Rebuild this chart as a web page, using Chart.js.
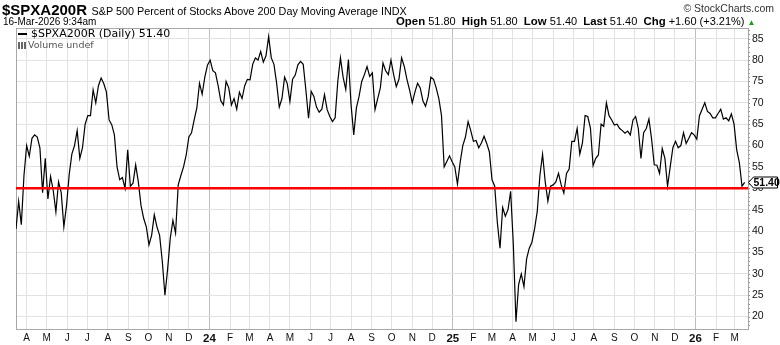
<!DOCTYPE html>
<html>
<head>
<meta charset="utf-8">
<script src="https://cdn.jsdelivr.net/npm/chart.js@4.4.1/dist/chart.umd.min.js"></script>
<style>
  html, body { margin: 0; padding: 0; background: #fff; }
  #wrap { position: relative; width: 780px; height: 345px; font-family: "Liberation Sans", Arial, sans-serif; color: #000; }
  #spx-chart { position: absolute; left: 0; top: 0; }
  .hdr { position: absolute; white-space: nowrap; line-height: 1; }
  .sym { font-weight: bold; font-size: 15px; }
  .desc { font-size: 10.8px; }
  .stamp { font-size: 10px; }
  .copy { font-size: 10.5px; color: #333; }
  .quote { font-size: 11px; }
  .quote b { font-size: 11.4px; }
  .up { color: #1a9a1a; font-size: 8px; }
  .legend { font-family: "DejaVu Sans", Verdana, sans-serif; font-size: 11px; }
  .dash { display: inline-block; width: 9px; height: 2px; background: #000; vertical-align: middle; margin-right: 4px; }
  .vol { font-family: "DejaVu Sans", Verdana, sans-serif; font-size: 9.5px; color: #555; }
  .bars { display: inline-block; width: 9px; height: 7px; margin-right: 1px; vertical-align: -1px;
          background: linear-gradient(to right, #666 0 2px, transparent 2px 3px, #666 3px 5px, transparent 5px 6px, #666 6px 8px, transparent 8px); }
</style>
</head>
<body>
<div id="wrap">
  <canvas id="spx-chart" width="780" height="345"></canvas>
  <div class="hdr" style="left:2px; top:2px;"><span class="sym">$SPXA200R</span> <span class="desc">S&amp;P 500 Percent of Stocks Above 200 Day Moving Average INDX</span></div>
  <div class="hdr stamp" style="left:3px; top:17px;">16-Mar-2026 9:34am</div>
  <div class="hdr copy" style="right:6px; top:3px;">© StockCharts.com</div>
  <div class="hdr quote" style="left:396px; top:16px;"><b>Open</b> 51.80&nbsp; <b>High</b> 51.80&nbsp; <b>Low</b> 51.40&nbsp; <b>Last</b> 51.40&nbsp; <b>Chg</b> +1.60 (+3.21%) <span class="up">▲</span></div>
  <div class="hdr legend" style="left:18px; top:28px;"><span class="dash"></span>$SPXA200R (Daily) 51.40</div>
  <div class="hdr vol" style="left:18px; top:40px;"><span class="bars"></span>Volume undef</div>
</div>
<script>
// daily readings sampled every 4 calendar days, starting 16-Mar-2023
const startDate = Date.UTC(2023, 2, 16);
const stepDays = 4;
const spxa200r = [
  40.5, 47, 41.5, 53, 60, 57.5, 61.7, 62.5, 62, 59.4, 49, 57, 47.5, 52.8, 49.5, 44.5,
  51.5, 49, 41, 46, 53.2, 58, 60, 63.5, 57, 59.5, 65, 67, 67, 73, 70, 74,
  75.8, 74.5, 72.5, 66, 64.9, 62.5, 55, 52, 52.5, 50, 59, 50.5, 51.2, 55.5, 51.5, 46,
  43, 41, 36.8, 39, 43.8, 41, 39, 33, 25, 31, 38.3, 42.5, 39.5, 50.8, 53, 55, 57.8, 62, 63, 66,
  68.8, 74.6, 72, 76, 78.8, 80, 77.5, 77, 74, 70.5, 69.5, 75, 73.5, 69.5, 71, 68.5, 72.5, 71,
  74, 75.5, 75.4, 79, 80.5, 80, 82, 79.5, 81, 85.5, 80.5, 79, 74.6, 69, 71, 76, 74.5, 70.3,
  75.5, 76.5, 78.9, 79.7, 79, 73, 66.4, 72.7, 71.5, 69, 67.8, 68.5, 71.9, 68.4, 66.8, 65.6, 66.5,
  75, 80.5, 76, 73.1, 80.1, 69.5, 62.5, 68.8, 71.5, 75, 76.6, 78.5, 76.2, 77, 68.4, 71, 73.5, 79.3,
  77.5, 76.6, 80, 76.6, 73.8, 75.5, 80.5, 78.5, 75.5, 73, 70, 72.5, 74.6, 73.5, 70.5, 69.2, 71.5, 76,
  75.5, 73.5, 71, 67, 55, 56.3, 57.6, 56.2, 55, 51, 56, 60, 62, 65.6, 63.5, 61, 61.2, 59.5,
  60.6, 62.2, 60.5, 58.5, 52, 50.5, 42, 36, 45.5, 43.5, 45, 49.3, 37, 18.8, 27.5, 30, 27, 33.5,
  36, 37.4, 40.5, 44.6, 53, 58, 51.5, 47, 50.5, 50.8, 51.5, 53.5, 50.8, 48.9, 53.5, 54.5, 61, 61,
  64, 58, 60.6, 67, 66.8, 64.1, 55.3, 57, 57.8, 65, 64.5, 70, 67, 66, 64.8, 65, 64, 63.5,
  62.9, 63.4, 62.5, 66, 66.8, 64, 57, 63, 64, 66.2, 61.5, 55.5, 55.4, 53.5, 59.3, 57, 50.5, 55,
  59.5, 61, 59.5, 60, 63, 60.5, 61.7, 63, 62.5, 61.5, 67, 68.5, 70, 68, 67.5, 66.5, 66.5, 67.5,
  68.5, 66.2, 66.5, 65.8, 67.4, 65, 59, 56, 50.5, 51.4
];
const yTickValues = [20, 25, 30, 35, 40, 45, 50, 55, 60, 65, 70, 75, 80, 85];
const monthLetters = ['J', 'F', 'M', 'A', 'M', 'J', 'J', 'A', 'S', 'O', 'N', 'D'];
const refLevel = 50;
const lastValue = 51.40;

const DAY = 86400000;
const xMax = 1101;

// month starts from Apr-2023 to Mar-2026, in days since startDate
const monthTicks = [];
for (let y = 2023, m = 3; y < 2026 || m <= 2; m++) {
  if (m > 11) { m = 0; y++; }
  monthTicks.push({
    day: (Date.UTC(y, m, 1) - startDate) / DAY,
    label: m === 0 ? String(y).slice(2) : monthLetters[m],
    year: m === 0,
  });
}

const points = spxa200r.map((v, i) => ({ x: i * stepDays, y: v }));

const frame = {
  id: 'frame',
  beforeDatasetsDraw(chart) {
    const a = chart.chartArea, c = chart.ctx;
    c.save();
    c.strokeStyle = '#a8a8a8';
    c.lineWidth = 1;
    c.strokeRect(a.left + 0.5, a.top + 0.5, a.right - a.left, a.bottom - a.top);
    // small unit ticks on the right edge
    c.strokeStyle = '#999';
    const ys = chart.scales.y;
    for (let v = 18; v <= 87; v++) {
      const py = Math.round(ys.getPixelForValue(v)) + 0.5;
      c.beginPath();
      c.moveTo(a.right, py);
      c.lineTo(a.right + 2, py);
      c.stroke();
    }
    c.restore();
  },
  afterDraw(chart) {
    const a = chart.chartArea, c = chart.ctx;
    const y = Math.round(chart.scales.y.getPixelForValue(lastValue)) + 0.5;
    const x0 = a.right + 0.5;
    c.save();
    c.beginPath();
    c.moveTo(x0, y);
    c.lineTo(x0 + 5, y - 5.5);
    c.lineTo(x0 + 29, y - 5.5);
    c.lineTo(x0 + 29, y + 5.5);
    c.lineTo(x0 + 5, y + 5.5);
    c.closePath();
    c.fillStyle = '#fff';
    c.fill();
    c.strokeStyle = '#000';
    c.lineWidth = 1;
    c.stroke();
    c.fillStyle = '#000';
    c.font = 'bold 10.5px "Liberation Sans", Arial, sans-serif';
    c.textBaseline = 'middle';
    c.fillText(lastValue.toFixed(2), x0 + 5, y + 0.5);
    c.restore();
  }
};

new Chart(document.getElementById('spx-chart'), {
  type: 'line',
  data: {
    datasets: [
      {
        data: [{ x: 0, y: refLevel }, { x: xMax, y: refLevel }],
        borderColor: '#ff0000',
        borderWidth: 2.5,
        pointRadius: 0,
        order: 0,
      },
      {
        data: points,
        borderColor: '#000',
        borderWidth: 1.2,
        pointRadius: 0,
        tension: 0,
        order: 1,
      },
    ]
  },
  options: {
    responsive: false,
    animation: false,
    events: [],
    layout: { padding: { left: 16, top: 28, right: 0, bottom: 0 } },
    plugins: { legend: { display: false }, tooltip: { enabled: false } },
    scales: {
      x: {
        type: 'linear',
        min: 0,
        max: xMax,
        afterBuildTicks: s => { s.ticks = monthTicks.map(t => ({ value: t.day })); },
        afterFit: s => { s.height = 16; },
        grid: {
          drawTicks: false,
          color: c => (monthTicks[c.index] && monthTicks[c.index].year) ? '#bdbdbd' : '#e2e2e2',
        },
        border: { display: false },
        ticks: {
          autoSkip: false,
          maxRotation: 0,
          padding: 3,
          color: '#111',
          font: c => (monthTicks[c.index] && monthTicks[c.index].year)
            ? { family: '"Liberation Sans", Arial, sans-serif', size: 11.5, weight: 'bold' }
            : { family: '"Liberation Sans", Arial, sans-serif', size: 10 },
          callback: (v, i) => monthTicks[i].label,
        },
      },
      y: {
        position: 'right',
        min: 17.1,
        max: 87.5,
        afterBuildTicks: s => { s.ticks = yTickValues.map(v => ({ value: v })); },
        afterFit: s => { s.width = 32; },
        grid: { drawTicks: false, color: '#e2e2e2' },
        border: { display: false },
        ticks: {
          padding: 4,
          color: '#111',
          font: { family: '"Liberation Sans", Arial, sans-serif', size: 10.5 },
        },
      },
    },
  },
  plugins: [frame],
});
</script>
</body>
</html>
